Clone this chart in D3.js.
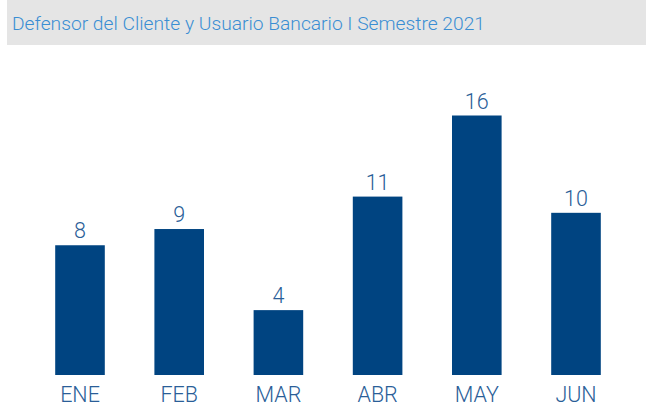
<!DOCTYPE html>
<html>
<head>
<meta charset="utf-8">
<script src="https://cdn.jsdelivr.net/npm/d3@7"></script>
<style>
  body { margin: 0; background: #fff; }
  svg { display: block; font-family: Roboto, "Noto Sans", sans-serif; }
</style>
</head>
<body>
<svg id="chart" width="646" height="414"></svg>
<script>
var months = ['ENE', 'FEB', 'MAR', 'ABR', 'MAY', 'JUN'];
var counts = [8, 9, 4, 11, 16, 10];
var title = 'Defensor del Cliente y Usuario Bancario I Semestre 2021';

var svg = d3.select('#chart');

// grey header band
svg.append('rect')
    .attr('x', 7).attr('y', 0)
    .attr('width', 639).attr('height', 45)
    .attr('fill', '#e5e5e5');

svg.append('text')
    .attr('x', 12).attr('y', 30)
    .attr('font-size', 19)
    .attr('font-weight', 300)
    .attr('fill', '#3a8ed3')
    .attr('textLength', 473)
    .attr('lengthAdjust', 'spacingAndGlyphs')
    .text(title);

var x = d3.scaleBand()
    .domain(months)
    .range([30.4, 625.6])
    .paddingInner(0.5)
    .paddingOuter(0.25);

var y = d3.scaleLinear()
    .domain([0, 16])
    .range([375, 115.5]);

svg.selectAll('.bar')
    .data(counts)
    .enter().append('rect')
    .attr('class', 'bar')
    .attr('x', function(d, i) { return x(months[i]); })
    .attr('y', function(d) { return y(d); })
    .attr('width', x.bandwidth())
    .attr('height', function(d) { return y(0) - y(d); })
    .attr('fill', '#004481');

// value labels above bars
svg.selectAll('.val')
    .data(counts)
    .enter().append('text')
    .attr('class', 'val')
    .attr('x', function(d, i) { return x(months[i]) + x.bandwidth() / 2; })
    .attr('y', function(d) { return y(d) - 7; })
    .attr('text-anchor', 'middle')
    .attr('font-size', 21.5)
    .attr('font-weight', 300)
    .attr('fill', '#2a5e98')
    .text(function(d) { return d; });

// month axis, no line or ticks
var axis = svg.append('g')
    .attr('transform', 'translate(0,' + y(0) + ')')
    .call(d3.axisBottom(x).tickSize(0).tickPadding(27));
axis.select('.domain').remove();
axis.selectAll('text')
    .attr('font-size', 21.5)
    .attr('font-weight', 300)
    .attr('font-family', 'Roboto, "Noto Sans", sans-serif')
    .attr('fill', '#2a5e98')
    .attr('dy', 0);
</script>
</body>
</html>
